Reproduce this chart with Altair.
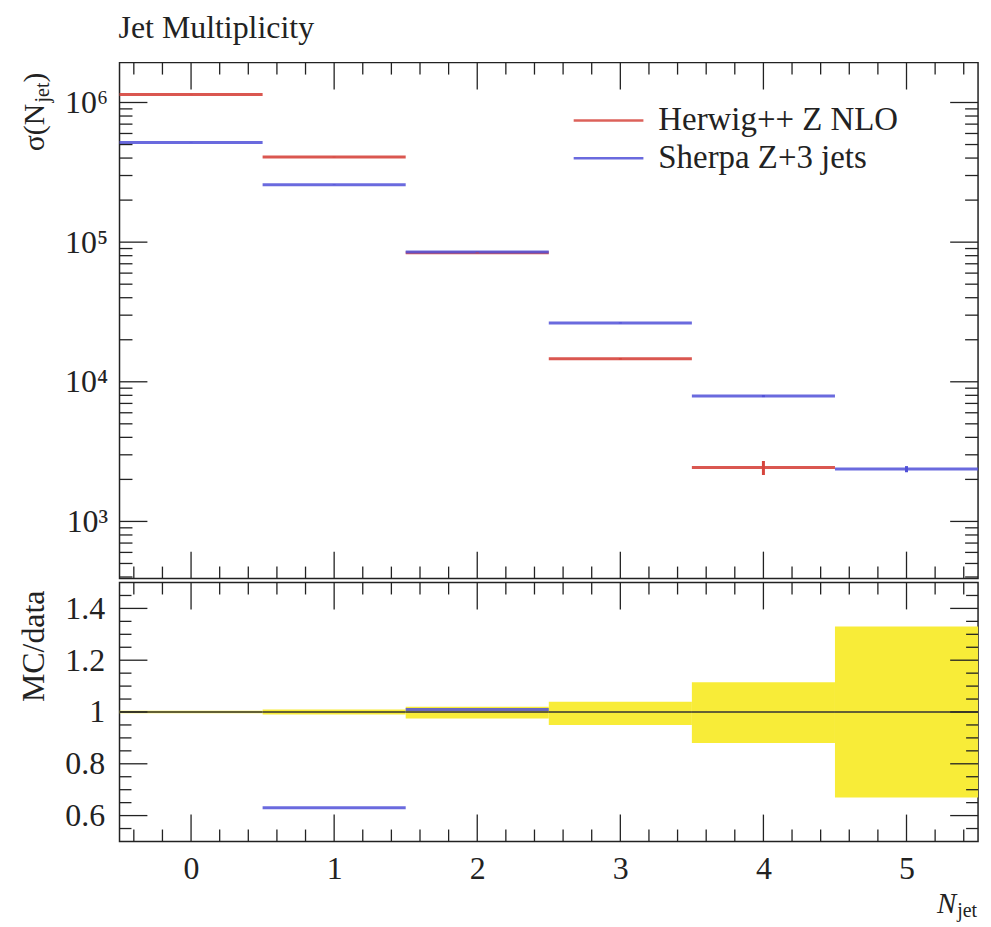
import altair as alt
import pandas as pd

# ---------------- data ----------------
bin_lo = [-0.5, 0.5, 1.5, 2.5, 3.5, 4.5]
bin_hi = [0.5, 1.5, 2.5, 3.5, 4.5, 5.5]
bin_center = [0, 1, 2, 3, 4, 5]

herwig = [1.14e6, 4.07e5, 8.4e4, 1.46e4, 2.43e3, None]
herwig_err = [3.0e3, 2.0e3, 6.0e2, 2.0e2, 2.8e2, None]
sherpa = [5.18e5, 2.58e5, 8.5e4, 2.64e4, 7.9e3, 2.37e3]
sherpa_err = [1.5e3, 1.0e3, 5.0e2, 2.0e2, 1.3e2, 1.2e2]

sherpa_ratio = [0.45, 0.63, 1.01, 1.81, 3.25, 1.0e9]
data_ratio = [1.0, 1.0, 1.0, 1.0, 1.0, 1.0]
band_lo = [0.995, 0.99, 0.975, 0.95, 0.88, 0.67]
band_hi = [1.005, 1.01, 1.02, 1.04, 1.115, 1.33]

legend_names = ["Herwig++ Z NLO", "Sherpa Z+3 jets"]
title_text = "Jet Multiplicity"

x_major = [0, 1, 2, 3, 4, 5]
x_minor = [round(-0.4 + 0.2 * i, 1) for i in range(30)]
x_minor = [v for v in x_minor if abs(v - round(v)) > 1e-6]
y_major = [1e3, 1e4, 1e5, 1e6]
y_minor = [m * 10 ** e for e in range(2, 7) for m in range(2, 10)]
r_major = [0.6, 0.8, 1.0, 1.2, 1.4]
r_minor = [round(0.55 + 0.05 * i, 2) for i in range(19)]
r_minor = [v for v in r_minor if all(abs(v - m) > 1e-6 for m in r_major)]

# ---------------- style ----------------
FONT = "Liberation Serif"
RED = "#d6453d"
BLUE = "#5050d8"
YELLOW = "#f8ec38"
INK = "#222222"
W = 862
H1 = 518
H2 = 260
YDOM = [390, 1.93e6]
y_minor = [v for v in y_minor if YDOM[0] <= v <= YDOM[1]]

xs = alt.Scale(domain=[-0.5, 5.5], nice=False, zero=False)
ys = alt.Scale(type="log", domain=YDOM, nice=False)
rs = alt.Scale(domain=[0.5, 1.5], nice=False, zero=False)

lab_expr = ("datum.value == 1000 ? '10\u00b3' : datum.value == 10000 ? '10\u2074' : "
            "datum.value == 100000 ? '10\u2075' : datum.value == 1000000 ? '10\u2076' : ''")

LAB = dict(labelFont=FONT, labelFontSize=32, labelColor=INK)
AX_Y_TOP = alt.Axis(values=y_major, labelExpr=lab_expr, ticks=False, domain=False, grid=False,
                    title=None, labelPadding=12, **LAB)
AX_X_BOT = alt.Axis(values=x_major, format="d", ticks=False, domain=False, grid=False, title=None,
                    labelPadding=12, **LAB)
AX_Y_BOT = alt.Axis(values=r_major, format="~g", ticks=False, domain=False, grid=False, title=None,
                    labelPadding=15, **LAB)

TL_MAJ = 27
TL_MIN = 12


def xtick_layers(vals, length, H, axis):
    df = pd.DataFrame({"v": vals})
    base = alt.Chart(df).mark_rule(color=INK, strokeWidth=1.3)
    return [
        base.encode(x=alt.X("v:Q", scale=xs, axis=axis), y=alt.value(0), y2=alt.value(length)),
        base.encode(x=alt.X("v:Q", scale=xs, axis=axis), y=alt.value(H), y2=alt.value(H - length)),
    ]


def ytick_layers(vals, length, scale, axis):
    df = pd.DataFrame({"v": vals})
    base = alt.Chart(df).mark_rule(color=INK, strokeWidth=1.3)
    return [
        base.encode(y=alt.Y("v:Q", scale=scale, axis=axis), x=alt.value(0), x2=alt.value(length)),
        base.encode(y=alt.Y("v:Q", scale=scale, axis=axis), x=alt.value(W), x2=alt.value(W - length)),
    ]


hist = pd.DataFrame({
    "lo": bin_lo, "hi": bin_hi, "c": bin_center,
    "herwig": herwig, "herwig_err": herwig_err,
    "sherpa": sherpa, "sherpa_err": sherpa_err,
    "sherpa_ratio": sherpa_ratio, "data_ratio": data_ratio,
    "band_lo": band_lo, "band_hi": band_hi,
})
h_df = hist.dropna(subset=["herwig"]).copy()
h_df["elo"] = h_df["herwig"] - h_df["herwig_err"]
h_df["ehi"] = h_df["herwig"] + h_df["herwig_err"]
s_df = hist.dropna(subset=["sherpa"]).copy()
s_df["elo"] = s_df["sherpa"] - s_df["sherpa_err"]
s_df["ehi"] = s_df["sherpa"] + s_df["sherpa_err"]

# main upper layers
red_line = alt.Chart(h_df).mark_rule(color=RED, strokeWidth=3, opacity=0.9).encode(
    x=alt.X("lo:Q", scale=xs, axis=None), x2="hi:Q",
    y=alt.Y("herwig:Q", scale=ys, axis=AX_Y_TOP),
)
blue_line = alt.Chart(s_df).mark_rule(color=BLUE, strokeWidth=3, opacity=0.85).encode(
    x=alt.X("lo:Q", scale=xs, axis=None), x2="hi:Q",
    y=alt.Y("sherpa:Q", scale=ys, axis=AX_Y_TOP),
)
red_err = alt.Chart(h_df).mark_rule(color=RED, strokeWidth=3).encode(
    x=alt.X("c:Q", scale=xs, axis=None),
    y=alt.Y("elo:Q", scale=ys, axis=AX_Y_TOP), y2="ehi:Q",
)
blue_err = alt.Chart(s_df).mark_rule(color=BLUE, strokeWidth=3).encode(
    x=alt.X("c:Q", scale=xs, axis=None),
    y=alt.Y("elo:Q", scale=ys, axis=AX_Y_TOP), y2="ehi:Q",
)


def txt(s, size, x, y, angle=0, align="left", style="normal", baseline="alphabetic"):
    d = pd.DataFrame({"t": [s]})
    kw = dict(font=FONT, fontSize=size, align=align, baseline=baseline, color=INK, fontStyle=style)
    if angle:
        kw["angle"] = angle
    return alt.Chart(d).mark_text(**kw).encode(x=alt.value(x), y=alt.value(y), text="t:N")


# legend
leg_layers = []
for i, (name, col) in enumerate(zip(legend_names, [RED, BLUE])):
    ldf = pd.DataFrame({"label": [name]})
    yy = 58 + 38 * i
    leg_layers.append(alt.Chart(ldf).mark_rule(color=col, strokeWidth=2.5, opacity=0.85).encode(
        x=alt.value(456), x2=alt.value(526), y=alt.value(yy)))
    leg_layers.append(alt.Chart(ldf).mark_text(
        font=FONT, fontSize=33, align="left", baseline="middle", color=INK).encode(
        x=alt.value(541), y=alt.value(yy), text="label:N"))

# rotated y title sigma(N_jet) and the chart title
sig_layers = [
    txt("\u03c3(N", 30, -76, 89, angle=270),
    txt("jet", 20, -71, 40, angle=270),
    txt(")", 30, -76, 20, angle=270),
    txt(title_text, 32, -1, -25),
]

upper_layers = ([red_line, blue_line, red_err, blue_err]
                + xtick_layers(x_major, TL_MAJ, H1, None) + xtick_layers(x_minor, TL_MIN, H1, None)
                + ytick_layers(y_major, 28, ys, AX_Y_TOP) + ytick_layers(y_minor, 13, ys, AX_Y_TOP)
                + leg_layers + sig_layers)

upper = alt.layer(*upper_layers).properties(width=W, height=H1)

# ---------------- ratio panel ----------------
band = alt.Chart(hist).mark_rect(color=YELLOW, opacity=1).encode(
    x=alt.X("lo:Q", scale=xs, axis=AX_X_BOT), x2="hi:Q",
    y=alt.Y("band_lo:Q", scale=rs, axis=AX_Y_BOT), y2="band_hi:Q",
)
data_line = alt.Chart(hist).mark_rule(color="#333333", strokeWidth=1.6).encode(
    x=alt.X("lo:Q", scale=xs, axis=AX_X_BOT), x2="hi:Q",
    y=alt.Y("data_ratio:Q", scale=rs, axis=AX_Y_BOT),
)
blue_ratio = alt.Chart(hist).mark_rule(color=BLUE, strokeWidth=3, opacity=0.85, clip=True).encode(
    x=alt.X("lo:Q", scale=xs, axis=AX_X_BOT), x2="hi:Q",
    y=alt.Y("sherpa_ratio:Q", scale=rs, axis=AX_Y_BOT),
)

lower_text = [
    txt("MC/data", 32, -76, 120, angle=270),
    txt("N", 29, W - 22, 332, align="right", style="italic"),
    txt("jet", 20, W - 1, 336, align="right"),
]

lower_layers = ([band, data_line, blue_ratio]
                + xtick_layers(x_major, TL_MAJ, H2, AX_X_BOT) + xtick_layers(x_minor, TL_MIN, H2, AX_X_BOT)
                + ytick_layers(r_major, 28, rs, AX_Y_BOT) + ytick_layers(r_minor, 12, rs, AX_Y_BOT)
                + lower_text)

lower = alt.layer(*lower_layers).properties(width=W, height=H2)

chart = alt.vconcat(upper, lower, spacing=0).properties(
    padding={"left": 17, "top": 9, "right": 10, "bottom": 5},
    background="white",
).configure_view(stroke=INK, strokeWidth=1.5).configure_concat(spacing=0).configure_axis(
    labelFont=FONT, labelFontSize=32, labelColor=INK
)

chart.save("out.html", embed_options={"renderer": "svg", "actions": False})
